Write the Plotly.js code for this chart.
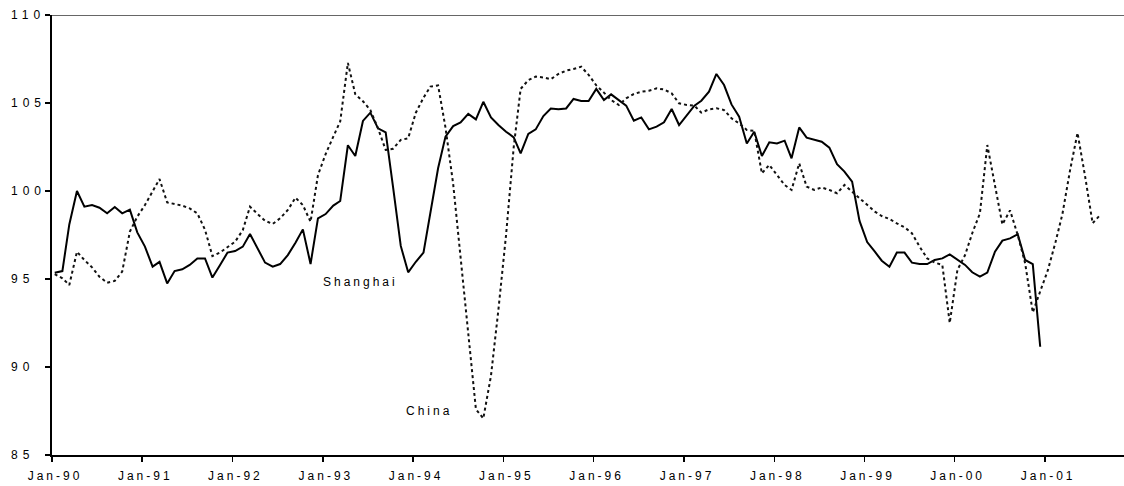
<!DOCTYPE html>
<html>
<head>
<meta charset="utf-8">
<script src="https://cdn.plot.ly/plotly-3.0.1.min.js"></script>
<style>
  html, body { margin: 0; padding: 0; background: #fff; }
  #chart { width: 1124px; height: 486px; }
  svg text { letter-spacing: 3px; }
  svg text[style*="12.01px"] { letter-spacing: 5px; }
</style>
</head>
<body>
<div id="chart"></div>
<script>
// Monthly series starting Jan-1990
const startYear = 1990;
const startMonth = 0; // January

const shanghai = [
  95.36, 95.45, 98.1, 100.0, 99.11, 99.2, 99.05, 98.73, 99.09, 98.73, 98.94, 97.65,
  96.84, 95.7, 95.97, 94.75, 95.45, 95.55, 95.8, 96.17, 96.17, 95.08, 95.8, 96.5,
  96.59, 96.84, 97.56, 96.7, 95.93, 95.7, 95.85, 96.36, 97.06, 97.82, 95.85, 98.45,
  98.69, 99.17, 99.43, 102.6, 101.99, 103.98, 104.45, 103.56, 103.33, 100.2, 96.88, 95.38,
  95.98, 96.5, 98.8, 101.29, 103.09, 103.69, 103.9, 104.38, 104.07, 105.07, 104.18, 103.75,
  103.37, 103.05, 102.14, 103.24, 103.5, 104.26, 104.69, 104.64, 104.69, 105.23, 105.11, 105.11,
  105.8, 105.17, 105.49, 105.17, 104.85, 103.99, 104.18, 103.5, 103.66, 103.9, 104.66, 103.75,
  104.32, 104.85, 105.13, 105.64, 106.65, 106.02, 104.92, 104.22, 102.7, 103.37, 101.99, 102.77,
  102.7, 102.86, 101.86, 103.61, 103.03, 102.9, 102.8, 102.46, 101.52, 101.1, 100.53, 98.3,
  97.1, 96.55, 96.04, 95.7, 96.5, 96.5, 95.93, 95.85, 95.85, 96.08, 96.17, 96.4,
  96.12, 95.8, 95.38, 95.13, 95.36, 96.55, 97.18, 97.31, 97.54, 96.08, 95.85, 91.15
];

const china = [
  95.28, 95.04, 94.66, 96.55, 96.08, 95.66, 95.13, 94.79, 94.89, 95.42, 97.69, 98.54,
  99.2, 99.96, 100.68, 99.35, 99.26, 99.17, 99.01, 98.73, 97.8, 96.3, 96.51, 96.8,
  97.12, 97.78, 99.11, 98.69, 98.31, 98.13, 98.45, 98.92, 99.62, 99.2, 98.25, 100.9,
  102.1, 103.09, 103.95, 107.28, 105.5, 105.1, 104.6, 103.56, 102.33, 102.4, 102.9, 103.0,
  104.45, 105.3, 105.93, 106.0, 103.6, 100.4, 96.2, 92.2, 87.6, 87.08, 89.5, 93.25,
  97.5, 102.5, 105.8, 106.3, 106.5, 106.45, 106.35, 106.65, 106.84, 106.93, 107.06, 106.6,
  106.0, 105.59, 105.17, 104.89, 105.26, 105.51, 105.64, 105.7, 105.83, 105.77, 105.55, 104.98,
  104.89, 104.85, 104.45, 104.64, 104.7, 104.6, 104.13, 103.84, 103.47, 103.41, 101.0, 101.48,
  100.91, 100.34, 100.06, 101.57, 100.25, 100.06, 100.2, 100.06, 99.87, 100.34, 99.96, 99.58,
  99.2, 98.83, 98.58, 98.41, 98.16, 97.94, 97.6, 96.84, 96.17, 95.93, 95.8, 92.5,
  95.51, 96.36, 97.6, 98.73, 102.61, 100.3, 98.1, 98.9, 97.5, 95.9, 93.1, 94.3,
  95.5, 97.1, 98.7, 101.2, 103.3, 100.8, 98.17, 98.64
];

const seriesNames = ['Shanghai', 'China'];
const labelPos = { Shanghai: ['1993-06-02', 94.83], China: ['1994-03-07', 87.52] };
const yTickValues = [85, 90, 95, 100, 105, 110];

function monthDates(n) {
  const out = [];
  for (let i = 0; i < n; i++) {
    const y = startYear + Math.floor((startMonth + i) / 12);
    const m = (startMonth + i) % 12 + 1;
    out.push(y + '-' + String(m).padStart(2, '0') + '-12');
  }
  return out;
}

const FAM = '"Liberation Sans", Arial, sans-serif';
const font = { family: FAM, size: 12, color: '#000' };
const yFont = { family: FAM, size: 12.01, color: '#000' };

const traces = [
  {
    x: monthDates(shanghai.length), y: shanghai, name: seriesNames[0],
    type: 'scatter', mode: 'lines',
    line: { color: '#000', width: 2 }
  },
  {
    x: monthDates(china.length), y: china, name: seriesNames[1],
    type: 'scatter', mode: 'lines',
    line: { color: '#111', width: 2, dash: 'dot' }
  }
];

const seriesLabels = seriesNames.map(n => ({
  text: n, x: labelPos[n][0], y: labelPos[n][1], xref: 'x', yref: 'y',
  showarrow: false, font: font
}));
const yLabels = yTickValues.map(v => ({
  text: String(v), x: -0.0405, xanchor: 'left', xref: 'paper',
  y: v, yref: 'y', yanchor: 'middle', showarrow: false, font: yFont
}));

const layout = {
  width: 1124, height: 486,
  margin: { l: 52, r: 0, t: 15, b: 31 },
  paper_bgcolor: '#fff', plot_bgcolor: '#fff',
  showlegend: false,
  font: font,
  xaxis: {
    type: 'date',
    range: ['1990-01-01', '2001-11-16'],
    tick0: '1990-01-01', dtick: 'M12', tickformat: '%b-%y',
    ticks: 'outside', ticklen: 5, tickwidth: 1.5, tickcolor: '#000',
    ticklabelstandoff: 4, ticklabelshift: 3,
    showline: true, linecolor: '#000', linewidth: 2,
    showgrid: false, zeroline: false,
    tickfont: font
  },
  yaxis: {
    range: [85, 110], tickvals: yTickValues,
    ticks: 'outside', ticklen: 5, tickwidth: 1.5, tickcolor: '#000',
    showticklabels: false,
    showline: true, linecolor: '#000', linewidth: 2,
    showgrid: false, zeroline: false
  },
  shapes: [
    { type: 'line', xref: 'paper', yref: 'y', x0: 0, x1: 1, y0: 110, y1: 110,
      line: { color: '#333', width: 1.5 } }
  ],
  annotations: seriesLabels.concat(yLabels)
};

Plotly.newPlot('chart', traces, layout, { displayModeBar: false, staticPlot: true });
</script>
</body>
</html>
